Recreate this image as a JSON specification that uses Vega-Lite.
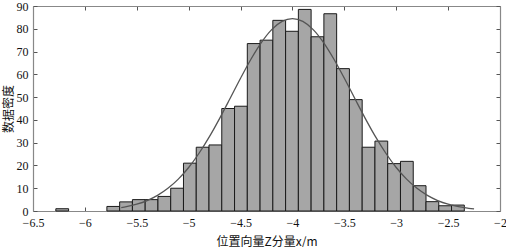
{
  "$schema": "https://vega.github.io/schema/vega-lite/v6.json",
  "autosize": "none",
  "width": 467,
  "height": 205,
  "padding": {"left": 33, "top": 6, "right": 6, "bottom": 36},
  "background": "white",
  "config": {
    "view": {"stroke": null},
    "font": "Liberation Serif",
    "axis": {
      "labelFont": "Liberation Serif",
      "labelFontSize": 12,
      "labelColor": "#111",
      "titleFont": "Noto Sans CJK SC",
      "titleFontSize": 12,
      "titleFontWeight": "normal",
      "titleColor": "#111",
      "grid": false,
      "domainColor": "#888",
      "domainWidth": 1.2,
      "tickColor": "#555",
      "tickSize": -4,
      "tickWidth": 1
    }
  },
  "datasets": {
    "bins": [
      {"start": -6.280, "end": -6.157, "count": 1},
      {"start": -5.788, "end": -5.665, "count": 2},
      {"start": -5.665, "end": -5.542, "count": 4},
      {"start": -5.542, "end": -5.419, "count": 5},
      {"start": -5.419, "end": -5.296, "count": 5},
      {"start": -5.296, "end": -5.173, "count": 6.4},
      {"start": -5.173, "end": -5.050, "count": 10},
      {"start": -5.050, "end": -4.927, "count": 21},
      {"start": -4.927, "end": -4.804, "count": 28},
      {"start": -4.804, "end": -4.681, "count": 29},
      {"start": -4.681, "end": -4.558, "count": 45},
      {"start": -4.558, "end": -4.435, "count": 46},
      {"start": -4.435, "end": -4.312, "count": 73.5},
      {"start": -4.312, "end": -4.189, "count": 75},
      {"start": -4.189, "end": -4.066, "count": 83.7},
      {"start": -4.066, "end": -3.943, "count": 78.9},
      {"start": -3.943, "end": -3.820, "count": 88.5},
      {"start": -3.820, "end": -3.697, "count": 76.5},
      {"start": -3.697, "end": -3.574, "count": 86.6},
      {"start": -3.574, "end": -3.451, "count": 62.5},
      {"start": -3.451, "end": -3.328, "count": 48.9},
      {"start": -3.328, "end": -3.205, "count": 28},
      {"start": -3.205, "end": -3.082, "count": 30.7},
      {"start": -3.082, "end": -2.959, "count": 20.8},
      {"start": -2.959, "end": -2.836, "count": 21.8},
      {"start": -2.836, "end": -2.713, "count": 11.1},
      {"start": -2.713, "end": -2.590, "count": 4.1},
      {"start": -2.590, "end": -2.467, "count": 2.3},
      {"start": -2.467, "end": -2.344, "count": 2.6}
    ],
    "curve": [
      {"x": -5.65, "y": 1.48},
      {"x": -5.6, "y": 1.88},
      {"x": -5.5, "y": 2.98},
      {"x": -5.4, "y": 4.59},
      {"x": -5.3, "y": 6.85},
      {"x": -5.2, "y": 9.94},
      {"x": -5.1, "y": 13.99},
      {"x": -5.0, "y": 19.11},
      {"x": -4.9, "y": 25.35},
      {"x": -4.8, "y": 32.64},
      {"x": -4.7, "y": 40.8},
      {"x": -4.6, "y": 49.48},
      {"x": -4.5, "y": 58.27},
      {"x": -4.4, "y": 66.61},
      {"x": -4.3, "y": 73.92},
      {"x": -4.2, "y": 79.63},
      {"x": -4.1, "y": 83.25},
      {"x": -4.0, "y": 84.5},
      {"x": -3.9, "y": 83.25},
      {"x": -3.8, "y": 79.63},
      {"x": -3.7, "y": 73.92},
      {"x": -3.6, "y": 66.61},
      {"x": -3.5, "y": 58.27},
      {"x": -3.4, "y": 49.48},
      {"x": -3.3, "y": 40.8},
      {"x": -3.2, "y": 32.64},
      {"x": -3.1, "y": 25.35},
      {"x": -3.0, "y": 19.11},
      {"x": -2.9, "y": 13.99},
      {"x": -2.8, "y": 9.94},
      {"x": -2.7, "y": 6.85},
      {"x": -2.6, "y": 4.59},
      {"x": -2.5, "y": 2.98},
      {"x": -2.4, "y": 1.88},
      {"x": -2.3, "y": 1.15},
      {"x": -2.25, "y": 0.89}
    ]
  },
  "resolve": {"axis": {"x": "independent", "y": "independent"}},
  "layer": [
    {
      "data": {"name": "bins"},
      "mark": {"type": "bar", "fill": "#a6a6a6", "stroke": "#1a1a1a", "strokeWidth": 1},
      "encoding": {
        "x": {
          "field": "start", "type": "quantitative",
          "scale": {"domain": [-6.5, -2], "nice": false, "zero": false},
          "axis": {
            "orient": "bottom",
            "values": [-6.5, -6, -5.5, -5, -4.5, -4, -3.5, -3, -2.5, -2],
            "format": ".1~f",
            "labelPadding": 10,
            "labelFlush": false,
            "labelOverlap": false,
            "title": "位置向量Z分量x/m",
            "titlePadding": 8
          }
        },
        "x2": {"field": "end"},
        "y": {
          "field": "count", "type": "quantitative",
          "scale": {"domain": [0, 90], "nice": false},
          "axis": {
            "orient": "left",
            "values": [0, 10, 20, 30, 40, 50, 60, 70, 80, 90],
            "labelPadding": 9,
            "labelFlush": false,
            "labelOverlap": false,
            "title": "数据密度",
            "titlePadding": 1
          }
        },
        "y2": {"datum": 0}
      }
    },
    {
      "data": {"name": "curve"},
      "mark": {"type": "line", "color": "#555555", "strokeWidth": 1.3, "interpolate": "monotone"},
      "encoding": {
        "x": {
          "field": "x", "type": "quantitative",
          "axis": {
            "orient": "top",
            "values": [-6.5, -6, -5.5, -5, -4.5, -4, -3.5, -3, -2.5, -2],
            "labels": false,
            "title": null
          }
        },
        "y": {
          "field": "y", "type": "quantitative",
          "axis": {
            "orient": "right",
            "values": [0, 10, 20, 30, 40, 50, 60, 70, 80, 90],
            "labels": false,
            "title": null
          }
        }
      }
    }
  ]
}
